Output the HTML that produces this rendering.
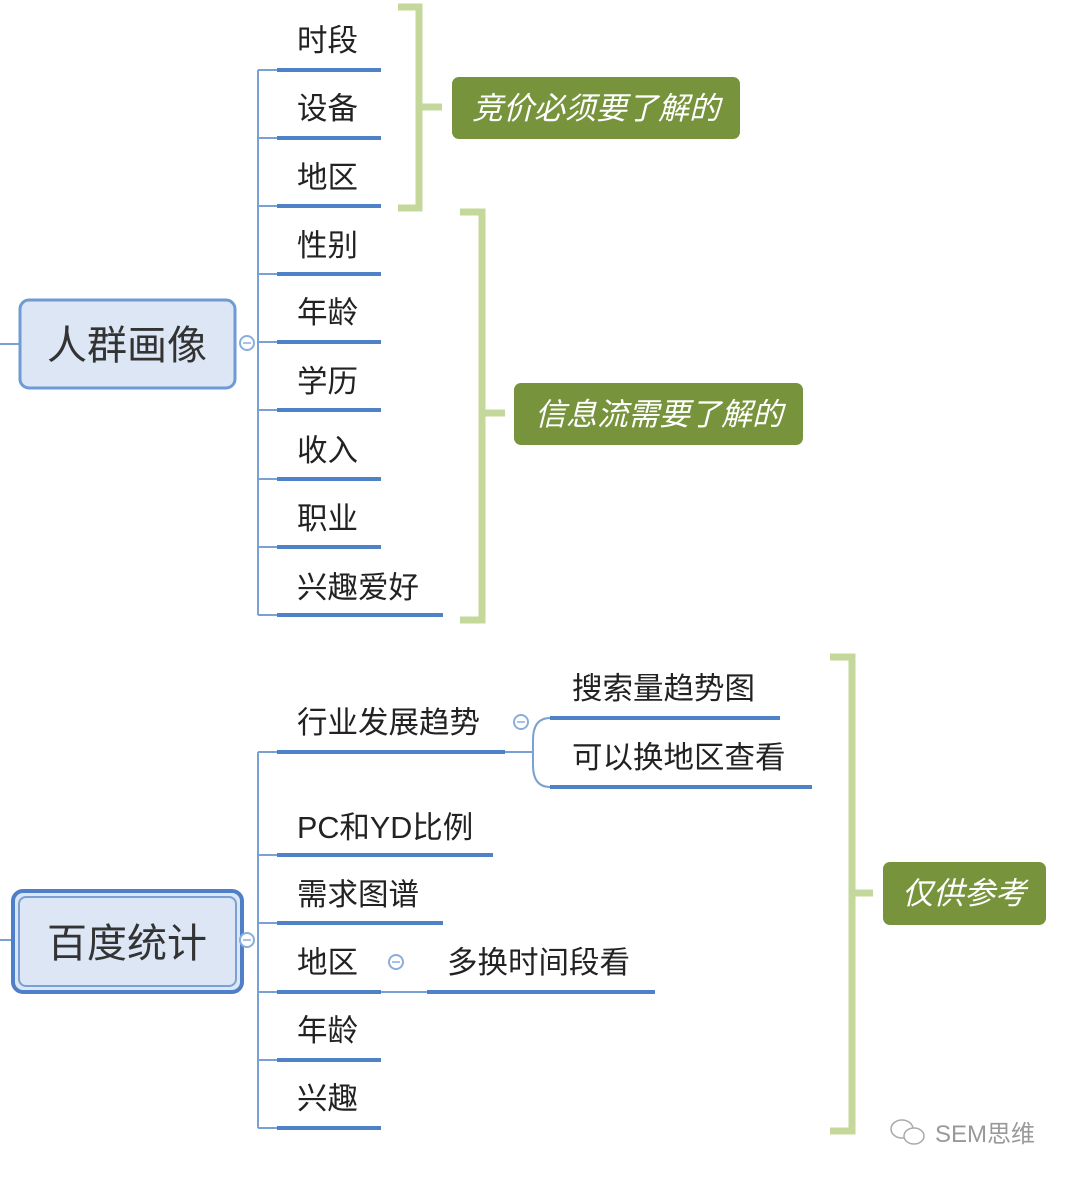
<!DOCTYPE html>
<html><head><meta charset="utf-8"><style>
html,body{margin:0;padding:0;background:#fff;}
svg{display:block;}
text{font-family:"Liberation Sans","Noto Sans CJK SC",sans-serif;}
.l{font-size:30.5px;fill:#222;}
.g{font-size:31px;fill:#fff;font-style:italic;}
</style></head><body>
<svg width="1072" height="1179" viewBox="0 0 1072 1179" xmlns="http://www.w3.org/2000/svg">
<g stroke="#c4d89b" stroke-width="7" fill="none">
<polyline points="398,7 419,7 419,208 398,208"/><line x1="419" y1="107" x2="442" y2="107"/>
<polyline points="460,212 482,212 482,620 460,620"/><line x1="482" y1="413" x2="505" y2="413"/>
<polyline points="830,657 852,657 852,1131 830,1131"/><line x1="852" y1="893" x2="873" y2="893"/>
</g>
<rect x="452" y="77" width="288" height="62" rx="7" fill="#77933c"/>
<text class="g" x="596" y="119" text-anchor="middle">竞价必须要了解的</text>
<rect x="514" y="383" width="289" height="62" rx="7" fill="#77933c"/>
<text class="g" x="659" y="425" text-anchor="middle">信息流需要了解的</text>
<rect x="883" y="862" width="163" height="63" rx="7" fill="#77933c"/>
<text class="g" x="964" y="904" text-anchor="middle">仅供参考</text>

<g stroke="#7aa1d4" stroke-width="2" fill="none">
<line x1="0" y1="344" x2="20" y2="344"/>
<line x1="258" y1="70" x2="258" y2="615"/>
<line x1="0" y1="940" x2="12" y2="940"/>
<line x1="258" y1="752" x2="258" y2="1128"/>
<path d="M258 70H277M258 138H277M258 206H277M258 274H277M258 342H277M258 410H277M258 479H277M258 547H277M258 615H277"/>
<path d="M258 752H277M258 855H277M258 923H277M258 992H277M258 1060H277M258 1128H277"/>
<path d="M505 752H533 M550 718 Q533 718 533 740 L533 765 Q533 787 550 787"/>
<path d="M381 992H427"/>
</g>
<g stroke="#4f81c7" stroke-width="4">
<path d="M277 70H381M277 138H381M277 206H381M277 274H381M277 342H381M277 410H381M277 479H381M277 547H381M277 615H443"/>
<path d="M277 752H505M277 855H493M277 923H443M277 992H381M277 1060H381M277 1128H381M427 992H655M550 718H780M550 787H812"/>
</g>

<rect x="20" y="300" width="215" height="88" rx="9" fill="#dce6f4" stroke="#6f9ad4" stroke-width="3"/>
<text x="127" y="359" text-anchor="middle" style="font-size:40px;fill:#333">人群画像</text>
<rect x="13" y="891" width="229" height="101" rx="10" fill="#dce6f4" stroke="#4f7fc8" stroke-width="4"/>
<rect x="19" y="897" width="217" height="89" rx="7" fill="none" stroke="#7aa1d4" stroke-width="2"/>
<text x="127" y="957" text-anchor="middle" style="font-size:40px;fill:#333">百度统计</text>

<g fill="#fff" stroke="#8aaedc" stroke-width="2">
<circle cx="247" cy="343" r="7"/><circle cx="247" cy="940" r="7"/>
<circle cx="521" cy="722" r="7"/><circle cx="396" cy="962" r="7"/>
</g>
<g stroke="#8aaedc" stroke-width="1.5">
<path d="M243 343h8M243 940h8M517 722h8M392 962h8"/>
</g>

<text class="l" x="297" y="51">时段</text>
<text class="l" x="297" y="119">设备</text>
<text class="l" x="297" y="188">地区</text>
<text class="l" x="297" y="256">性别</text>
<text class="l" x="297" y="323">年龄</text>
<text class="l" x="297" y="392">学历</text>
<text class="l" x="297" y="461">收入</text>
<text class="l" x="297" y="529">职业</text>
<text class="l" x="297" y="598">兴趣爱好</text>
<text class="l" x="297" y="733">行业发展趋势</text>
<text class="l" x="297" y="838">PC和YD比例</text>
<text class="l" x="297" y="905">需求图谱</text>
<text class="l" x="297" y="973">地区</text>
<text class="l" x="297" y="1041">年龄</text>
<text class="l" x="297" y="1109">兴趣</text>
<text class="l" x="572" y="699">搜索量趋势图</text>
<text class="l" x="572" y="768">可以换地区查看</text>
<text class="l" x="447" y="973">多换时间段看</text>

<g fill="none" stroke="#aaa" stroke-width="1.5">
<ellipse cx="902" cy="1129" rx="11" ry="9"/>
<ellipse cx="914" cy="1136" rx="10" ry="8" fill="#fff"/>
</g>
<text x="935" y="1142" style="font-size:24px;fill:#999">SEM思维</text>
</svg>
</body></html>
